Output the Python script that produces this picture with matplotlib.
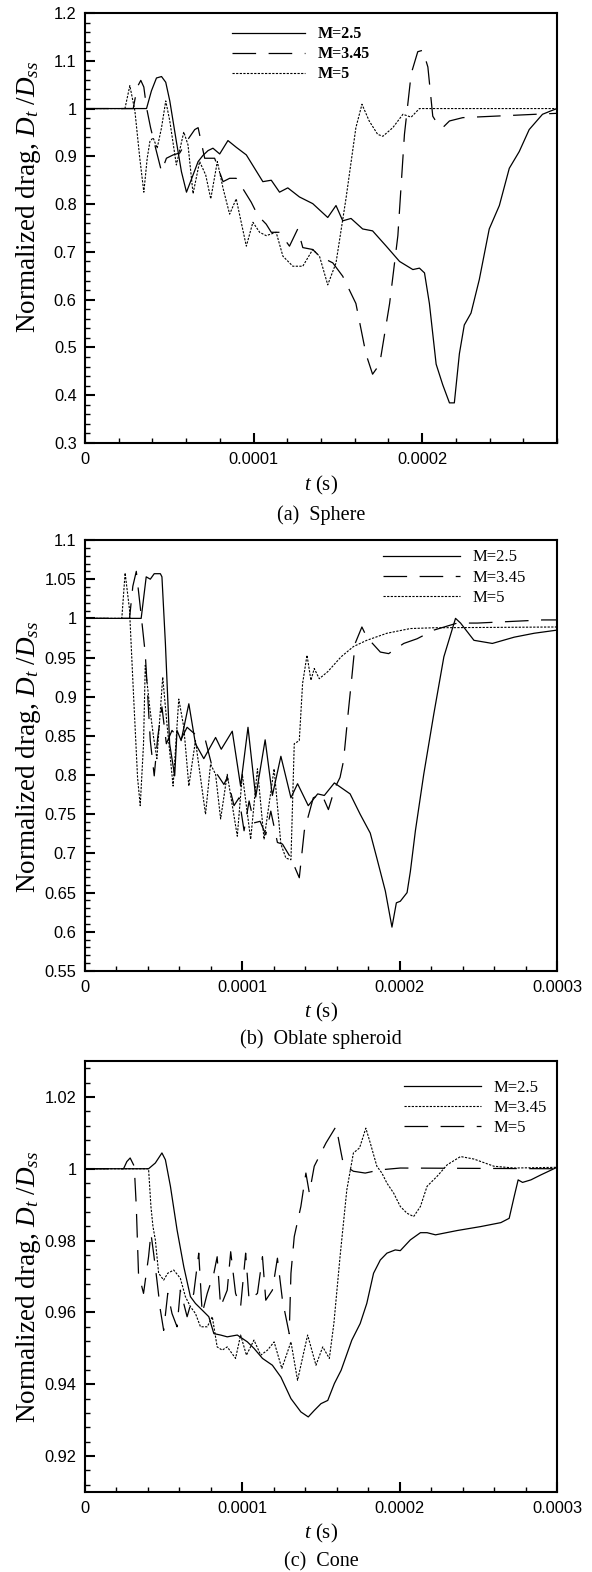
import numpy as np
import matplotlib
matplotlib.use('Agg')
import matplotlib.pyplot as plt
from matplotlib.ticker import MultipleLocator, FuncFormatter

# ========== DATA (time in microseconds, drag normalized by steady state) ==========
# (a) Sphere
sph_t_25 = [0, 36.5, 39.4, 42.4, 45.4, 47.9, 50.3, 54.2, 57.2, 60.2, 64.1, 67.1, 70.0, 73.0,
            75.9, 79.9, 84.8, 89.7, 95.7, 100.6, 105.5, 110.5, 115.4, 120.3, 127.2, 135.1,
            144.0, 148.9, 152.9, 157.8, 164.7, 170.6, 178.7, 186.6, 194.5, 198.4, 201.4,
            204.3, 208.3, 212.2, 216.2, 219.1, 222.1, 225.0, 229.0, 233.9, 239.8, 245.8,
            251.7, 257.6, 263.5, 271.4, 276.3, 280]
sph_d_25 = [1.0, 1.0, 1.037, 1.064, 1.067, 1.055, 1.016, 0.931, 0.868, 0.825, 0.861, 0.889,
            0.902, 0.912, 0.917, 0.905, 0.933, 0.919, 0.903, 0.875, 0.847, 0.850, 0.825,
            0.834, 0.815, 0.801, 0.772, 0.797, 0.765, 0.770, 0.748, 0.744, 0.712, 0.680,
            0.663, 0.666, 0.656, 0.592, 0.465, 0.422, 0.384, 0.384, 0.487, 0.547, 0.572,
            0.642, 0.748, 0.797, 0.875, 0.910, 0.956, 0.988, 0.995, 1.0]

sph_t_345 = [0, 28.6, 31.0, 33.1, 34.9, 36.5, 38.9, 41.4, 45.4, 48.3, 52.3, 56.2, 60.2, 65.1,
             67.1, 71.0, 76.9, 81.9, 85.8, 89.7, 93.7, 98.6, 102.6, 107.5, 110.5, 115.4,
             121.3, 126.2, 129.2, 135.1, 139.1, 147.0, 152.9, 160.7, 166.7, 170.6, 174.8,
             180.7, 185.6, 189.5, 193.5, 197.4, 200.4, 203.4, 206.3, 209.3, 212.2, 216.2,
             224.1, 273.4, 280]
sph_d_345 = [1.0, 1.0, 1.045, 1.059, 1.045, 1.002, 0.960, 0.924, 0.868, 0.896, 0.903, 0.907,
             0.931, 0.956, 0.960, 0.896, 0.896, 0.847, 0.854, 0.854, 0.832, 0.804, 0.776,
             0.758, 0.741, 0.741, 0.712, 0.748, 0.709, 0.705, 0.691, 0.677, 0.649, 0.592,
             0.486, 0.444, 0.465, 0.592, 0.734, 0.946, 1.073, 1.119, 1.122, 1.087, 0.984,
             0.967, 0.960, 0.974, 0.981, 0.989, 0.990]

sph_t_5 = [0, 23.7, 26.6, 29.6, 32.5, 34.9, 36.9, 38.5, 40.4, 42.8, 45.4, 47.9, 50.3, 54.2,
           58.6, 61.1, 64.1, 68.0, 71.6, 74.6, 78.5, 81.9, 85.8, 89.7, 95.7, 99.6, 103.6,
           107.5, 113.4, 117.4, 123.3, 129.2, 135.1, 139.1, 144.0, 148.9, 154.8, 160.7,
           164.3, 168.6, 173.6, 176.7, 182.6, 188.6, 193.5, 198.4, 280]
sph_d_5 = [1.0, 1.0, 1.048, 0.995, 0.896, 0.825, 0.896, 0.931, 0.939, 0.917, 0.960, 1.016,
           0.974, 0.882, 0.951, 0.924, 0.822, 0.889, 0.861, 0.811, 0.889, 0.833, 0.779,
           0.811, 0.712, 0.762, 0.741, 0.734, 0.741, 0.691, 0.670, 0.670, 0.705, 0.691,
           0.631, 0.677, 0.811, 0.960, 1.009, 0.974, 0.946, 0.942, 0.960, 0.988, 0.982,
           1.0, 1.0]

# (b) Oblate spheroid
obl_t_25 = [0, 35.7, 38.9, 41.5, 44.0, 47.9, 48.9, 51.1, 53.8, 57.0, 58.5, 61.1, 66.0, 70.2,
            75.5, 83.0, 86.6, 93.6, 98.9, 103.6, 108.5, 114.5, 119.1, 124.5, 130.9, 135.1,
            141.9, 147.9, 152.1, 158.5, 168.5, 174.9, 181.3, 185.5, 190.9, 195.1, 197.9,
            200.4, 204.7, 206.8, 210.0, 215.3, 221.7, 228.1, 235.5, 238.7, 247.2, 258.9,
            272.8, 285.5, 300]
obl_d_25 = [1.0, 1.0, 1.053, 1.050, 1.057, 1.057, 1.053, 0.968, 0.840, 0.799, 0.857, 0.844,
            0.891, 0.840, 0.821, 0.848, 0.833, 0.856, 0.786, 0.861, 0.772, 0.845, 0.774,
            0.824, 0.771, 0.789, 0.761, 0.776, 0.774, 0.790, 0.776, 0.750, 0.726, 0.694,
            0.652, 0.606, 0.637, 0.639, 0.650, 0.677, 0.729, 0.801, 0.878, 0.951, 1.0, 0.994,
            0.972, 0.968, 0.976, 0.981, 0.985]

obl_t_345 = [0, 28.3, 30.4, 32.6, 35.1, 38.3, 39.4, 41.5, 44.0, 46.2, 48.9, 51.7, 55.3, 60.6,
             64.9, 72.3, 76.6, 80.9, 84.0, 88.3, 90.4, 94.7, 97.9, 101.1, 104.3, 107.4,
             111.3, 114.9, 118.1, 122.3, 125.5, 130.9, 136.2, 139.4, 145.1, 150.4, 154.7,
             158.9, 162.1, 164.3, 167.4, 169.6, 171.7, 176.0, 179.1, 187.7, 193.0, 202.6,
             211.1, 221.7, 236.6, 249.4, 290.9, 300]
obl_d_345 = [1.0, 1.0, 1.041, 1.060, 1.015, 0.955, 0.917, 0.844, 0.799, 0.848, 0.887, 0.840,
             0.857, 0.844, 0.861, 0.848, 0.844, 0.810, 0.801, 0.788, 0.797, 0.761, 0.771,
             0.729, 0.767, 0.739, 0.741, 0.724, 0.754, 0.714, 0.712, 0.694, 0.669, 0.729,
             0.771, 0.776, 0.756, 0.784, 0.797, 0.818, 0.882, 0.925, 0.968, 0.989, 0.976,
             0.957, 0.955, 0.968, 0.974, 0.985, 0.994, 0.994, 0.998, 0.998]

obl_t_5 = [0, 23.4, 25.5, 28.3, 30.9, 33.4, 35.1, 37.2, 38.3, 41.1, 43.6, 45.7, 49.4, 52.1,
           56.0, 59.6, 62.8, 66.0, 70.2, 76.6, 79.8, 83.0, 86.2, 90.4, 96.8, 100.0, 105.3,
           109.6, 113.8, 120.2, 124.5, 127.7, 130.9, 133.0, 136.2, 138.3, 141.1, 143.6,
           145.7, 148.9, 154.3, 162.8, 170.6, 179.1, 191.9, 206.8, 221.7, 300]
obl_d_5 = [1.0, 1.0, 1.058, 1.011, 0.900, 0.797, 0.761, 0.840, 0.940, 0.887, 0.848, 0.821,
           0.925, 0.865, 0.786, 0.897, 0.861, 0.786, 0.844, 0.750, 0.814, 0.801, 0.744,
           0.801, 0.722, 0.801, 0.718, 0.808, 0.718, 0.808, 0.712, 0.694, 0.692, 0.840,
           0.844, 0.917, 0.953, 0.921, 0.936, 0.923, 0.932, 0.951, 0.964, 0.972, 0.981,
           0.987, 0.988, 0.989]

# (c) Cone
cone_t_25 = [0, 40.4, 44.7, 48.9, 51.1, 54.3, 58.5, 62.8, 67.0, 70.2, 75.5, 78.7, 81.9, 86.2,
             90.4, 96.8, 103.2, 107.4, 112.8, 119.1, 124.5, 130.9, 137.2, 141.9, 145.7,
             150.0, 154.3, 158.5, 162.8, 169.6, 174.9, 179.1, 183.4, 187.7, 191.9, 197.2,
             200.4, 206.8, 213.2, 217.4, 222.8, 236.6, 251.5, 264.3, 269.6, 272.8, 275.3,
             278.1, 283.4, 289.8, 300]
cone_d_25 = [1.0, 1.0, 1.0016, 1.0044, 1.0025, 0.9951, 0.9830, 0.9727, 0.9644, 0.9625,
             0.9602, 0.9588, 0.9541, 0.9537, 0.9532, 0.9537, 0.9518, 0.9500, 0.9472, 0.9453,
             0.9420, 0.9360, 0.9323, 0.9309, 0.9327, 0.9346, 0.9355, 0.9402, 0.9439, 0.9523,
             0.9569, 0.9625, 0.9709, 0.9746, 0.9765, 0.9774, 0.9772, 0.9802, 0.9822, 0.9822,
             0.9816, 0.9828, 0.9839, 0.9850, 0.9862, 0.9923, 0.9969, 0.9962, 0.9969, 0.9983,
             1.0004]

cone_t_345 = [0, 40.4, 41.9, 43.2, 44.7, 46.8, 50.0, 52.6, 56.4, 60.6, 63.8, 67.0, 70.2, 73.4,
              77.7, 80.9, 84.0, 87.2, 90.4, 95.7, 98.9, 102.6, 107.4, 111.7, 116.0, 120.2,
              125.1, 130.9, 135.1, 141.5, 146.8, 151.1, 155.3, 158.2, 162.1, 166.4, 170.6,
              174.5, 178.5, 181.3, 185.5, 188.7, 191.9, 196.2, 200.4, 204.7, 208.9, 213.2,
              217.4, 223.8, 230.2, 238.7, 247.2, 259.9, 272.8, 300]
cone_d_345 = [1.0, 1.0, 0.9895, 0.9839, 0.9802, 0.9709, 0.9690, 0.9709, 0.9718, 0.9695,
              0.9644, 0.9616, 0.9597, 0.9560, 0.9560, 0.9588, 0.9504, 0.9495, 0.9504, 0.9472,
              0.9537, 0.9481, 0.9523, 0.9481, 0.9495, 0.9518, 0.9444, 0.9518, 0.9411, 0.9537,
              0.9453, 0.9504, 0.9472, 0.9570, 0.9755, 0.9941, 1.0044, 1.0058, 1.0113, 1.0072,
              1.0007, 0.9988, 0.9960, 0.9932, 0.9895, 0.9876, 0.9867, 0.9895, 0.9951, 0.9979,
              1.0011, 1.0034, 1.0027, 1.0007, 1.0002, 1.0004]

cone_t_5 = [0, 24.5, 26.6, 28.7, 31.3, 32.6, 34.0, 37.2, 40.4, 41.9, 43.6, 45.7, 47.9, 50.0,
            52.6, 55.3, 58.5, 60.6, 64.9, 69.1, 72.3, 74.5, 77.7, 81.9, 84.0, 86.2, 90.4,
            92.6, 95.7, 98.9, 102.1, 104.3, 109.6, 112.8, 114.9, 119.1, 122.3, 125.5, 129.8,
            130.9, 133.0, 137.2, 140.4, 142.6, 145.7, 153.2, 159.6, 162.8, 164.3, 170.6,
            178.1, 187.7, 200.4, 300]
cone_d_5 = [1.0, 1.0, 1.002, 1.003, 1.0007, 0.9895, 0.9709, 0.9653, 0.9755, 0.9820, 0.9765,
            0.9690, 0.9607, 0.9550, 0.9653, 0.9597, 0.9560, 0.9662, 0.9588, 0.9653, 0.9765,
            0.9597, 0.9653, 0.9709, 0.9755, 0.9616, 0.9662, 0.9769, 0.9653, 0.9616, 0.9765,
            0.9634, 0.9653, 0.9755, 0.9634, 0.9662, 0.9751, 0.9634, 0.9541, 0.9709, 0.9811,
            0.9895, 0.9988, 0.9932, 1.0007, 1.0072, 1.0118, 1.0044, 1.0011, 0.9993, 0.9988,
            0.9997, 1.0002, 1.0]

# ========== STYLE ==========
plt.rcParams['font.family'] = ['Liberation Serif', 'DejaVu Serif']
plt.rcParams['mathtext.fontset'] = 'custom'
plt.rcParams['mathtext.rm'] = 'Liberation Serif'
plt.rcParams['mathtext.it'] = 'Liberation Serif:italic'
plt.rcParams['lines.scale_dashes'] = False

W, H = 592, 1572
SOLID = dict(color='black', lw=0.9, ls='-')
LONGDASH = dict(color='black', lw=0.9, dashes=(17, 9))
DOTTED = dict(color='black', lw=0.8, dashes=(1.6, 1.0))


def fx(px):
    return px / W


def fy(py):
    return 1 - py / H


def tick_fmt(v, pos):
    return '%g' % round(v, 6)


def setup_axes(ax, xlim, ylim, ymaj, ymin):
    ax.set_xlim(xlim)
    ax.set_ylim(ylim)
    ax.xaxis.set_major_locator(MultipleLocator(1e-4))
    ax.xaxis.set_minor_locator(MultipleLocator(2e-5))
    ax.yaxis.set_major_locator(MultipleLocator(ymaj))
    ax.yaxis.set_minor_locator(MultipleLocator(ymin))
    ax.xaxis.set_major_formatter(FuncFormatter(tick_fmt))
    ax.yaxis.set_major_formatter(FuncFormatter(tick_fmt))
    ax.tick_params(which='both', direction='in', top=False, right=False)
    ax.tick_params(which='major', length=7.5, width=1.5, labelsize=11.8)
    ax.tick_params(axis='x', which='major', pad=6.5)
    ax.tick_params(axis='y', which='major', pad=6)
    ax.tick_params(which='minor', length=3.8, width=1.0)
    for lab in ax.get_xticklabels() + ax.get_yticklabels():
        lab.set_family('Liberation Sans')
    for sp in ax.spines.values():
        sp.set_linewidth(1.5)


def add_legend(ax, x_px, top, prop):
    ax.legend(loc='upper left', bbox_to_anchor=((x_px - 85) / 472, top), frameon=False,
              handlelength=4.6, handletextpad=0.75, labelspacing=0.25, borderpad=0,
              borderaxespad=0, prop=prop)


fig = plt.figure(figsize=(W / 100, H / 100), dpi=100)

# axes boxes in pixels: (left, top, right, bottom)
boxes = [(85, 13, 557, 443), (85, 540, 557, 971), (85, 1061, 557, 1492)]
axes = [fig.add_axes([fx(l), fy(b), fx(r) - fx(l), (b - t) / H]) for l, t, r, b in boxes]

us = 1e-6

# ========== (a) SPHERE ==========
ax = axes[0]
ax.plot(np.array(sph_t_25) * us, sph_d_25, label='M=2.5', **SOLID)
ax.plot(np.array(sph_t_345) * us, sph_d_345, label='M=3.45', **LONGDASH)
ax.plot(np.array(sph_t_5) * us, sph_d_5, label='M=5', **DOTTED)
setup_axes(ax, (0, 2.8e-4), (0.3, 1.2), 0.1, 0.02)
add_legend(ax, 232, 0.969, {'family': 'Liberation Serif', 'weight': 'bold', 'size': 11.5})

# ========== (b) OBLATE SPHEROID ==========
ax = axes[1]
ax.plot(np.array(obl_t_25) * us, obl_d_25, label='M=2.5', **SOLID)
ax.plot(np.array(obl_t_345) * us, obl_d_345, label='M=3.45', **LONGDASH)
ax.plot(np.array(obl_t_5) * us, obl_d_5, label='M=5', **DOTTED)
setup_axes(ax, (0, 3e-4), (0.55, 1.1), 0.05, 0.01)
add_legend(ax, 383, 0.978, {'family': 'Liberation Serif', 'size': 12})

# ========== (c) CONE ==========
ax = axes[2]
ax.plot(np.array(cone_t_25) * us, cone_d_25, label='M=2.5', **SOLID)
ax.plot(np.array(cone_t_345) * us, cone_d_345, label='M=3.45', **DOTTED)
ax.plot(np.array(cone_t_5) * us, cone_d_5, label='M=5', **LONGDASH)
setup_axes(ax, (0, 3e-4), (0.91, 1.03), 0.02, 0.004)
add_legend(ax, 404, 0.957, {'family': 'Liberation Serif', 'size': 12})

# ========== LABELS AND CAPTIONS ==========
ylabel = r'Normalized drag, $D_t$ /$D_{ss}$'
for yc in (197, 757, 1287):
    fig.text(fx(29), fy(yc), ylabel, rotation=90, ha='center', va='center', fontsize=19.5)

for yc in (485, 1012, 1533):
    fig.text(fx(321), fy(yc), r'$t$ (s)', ha='center', va='center', fontsize=15)

captions = ['(a)  Sphere', '(b)  Oblate spheroid', '(c)  Cone']
for cap, yc in zip(captions, (515, 1039, 1562)):
    fig.text(fx(321), fy(yc), cap, ha='center', va='center', fontsize=14.5)

fig.savefig('out.png', dpi=100)
